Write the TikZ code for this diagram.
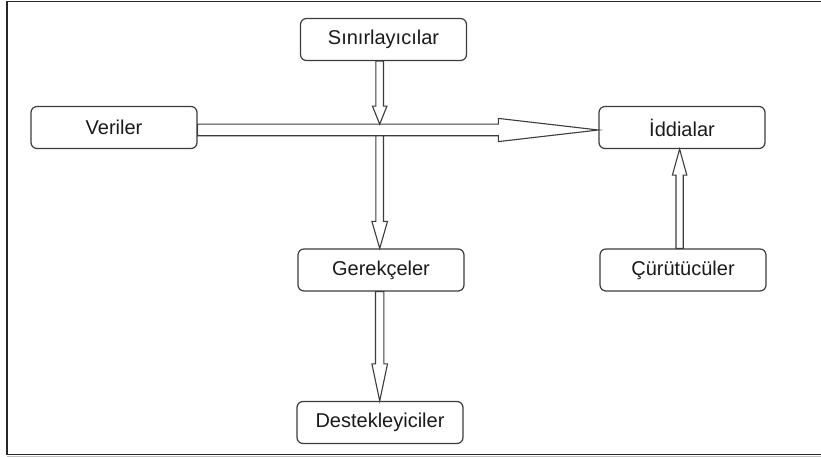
\documentclass[tikz,border=0pt]{standalone}
\usepackage{fontspec}
\setmainfont{Liberation Sans}
\usetikzlibrary{calc}

\definecolor{boxline}{HTML}{3C3C3C}
\definecolor{txt}{HTML}{1A1A1A}

\tikzset{
  box/.style={draw=boxline, line width=1.2pt, rounded corners=6pt, fill=white,
    minimum width=166pt, minimum height=42pt, inner sep=0pt,
    text=txt, font=\fontsize{20}{24}\selectfont},
  arrowbody/.style={draw=boxline, line width=1.1pt, fill=white, line join=miter},
}

% hollow block arrow: [style] {from} {to} {shaft half width} {head half width} {head length}
\newcommand\blockarrow[6][]{%
  \coordinate (headbase) at ($(#3)!#6!(#2)$);
  \draw[arrowbody,#1]
    ($(#2)!#4!90:(#3)$) -- ($(headbase)!#4!90:(#3)$) -- ($(headbase)!#5!90:(#3)$)
    -- (#3)
    -- ($(headbase)!#5!-90:(#3)$) -- ($(headbase)!#4!-90:(#3)$) -- ($(#2)!#4!-90:(#3)$)
    -- cycle;
}

\begin{document}
\begin{tikzpicture}[x=1pt, y=-1pt]
  \useasboundingbox (0,0) rectangle (821,457);

  % outer frame (open on the right)
  \draw[black!85, line width=1.2pt] (823,1.2) -- (7,1.2) -- (7,454.8) -- (823,454.8);
  \draw[black!25, line width=1.2pt] (7,456.4) -- (823,456.4);

  % boxes
  \node[box] (sin) at (383.5,39.5) {Sınırlayıcılar};
  \node[box] (ver) at (114,127.5) {Veriler};
  \node[box] (idd) at (682,127.5) {İddialar};
  \node[box] (ger) at (381,270) {Gerekçeler};
  \node[box] (cur) at (683,270) {Çürütücüler};
  \node[box] (des) at (380,422.5) {Destekleyiciler};

  % reference points on the main horizontal arrow
  \coordinate (haxis) at (0,130);
  \coordinate (jtop) at (379.7,124.2);
  \coordinate (jbot) at (379.7,135.8);
  \coordinate (rx) at (679.6,0);

  % Veriler -> İddialar
  \blockarrow{ver.east |- haxis}{idd.west |- haxis}{5.8pt}{11.6pt}{100pt}
  % Sınırlayıcılar -> main arrow
  \blockarrow{sin.south -| jtop}{jtop}{3.8pt}{7.2pt}{18pt}
  % main arrow -> Gerekçeler
  \blockarrow{jbot}{ger.north -| jbot}{3.8pt}{7.8pt}{27pt}
  % Gerekçeler -> Destekleyiciler
  \blockarrow{ger.south -| jbot}{des.north -| jbot}{4.2pt}{7.8pt}{37pt}
  % Çürütücüler -> İddialar
  \blockarrow{cur.north -| rx}{idd.south -| rx}{3.6pt}{7.2pt}{26pt}
\end{tikzpicture}
\end{document}
